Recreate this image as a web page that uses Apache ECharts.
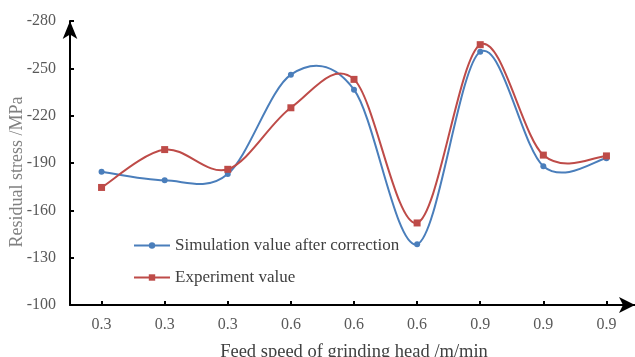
<!DOCTYPE html>
<html>
<head>
<meta charset="utf-8">
<script src="https://cdn.jsdelivr.net/npm/echarts@6/dist/echarts.min.js"></script>
<style>
  html, body { margin: 0; padding: 0; background: #fff; }
  #chart { width: 635px; height: 357px; }
</style>
</head>
<body>
<div id="chart"></div>
<script>
// Feed speed categories (m/min), one per test point
const feedSpeeds = ['0.3', '0.3', '0.3', '0.6', '0.6', '0.6', '0.9', '0.9', '0.9'];

// Residual stress (MPa)
const simulationValues = [-184.5, -179, -183, -246, -236.5, -138.5, -260.5, -188, -193];
const experimentValues = [-174.5, -198.5, -186, -225, -243, -152, -265, -195, -194.5];

// Y axis range and step
const yMin = -280;
const yMax = -100;
const yStep = 30;

const serif = 'Liberation Serif';
const blue = '#4A7EBB';
const red = '#BE4B48';

// Smooth curve through the projected points (cardinal spline, tension 1/6,
// the same shape spreadsheet "smoothed line" charts use).
function smoothPath(pts) {
  let d = 'M' + pts[0][0] + ' ' + pts[0][1];
  for (let i = 0; i < pts.length - 1; i++) {
    const p0 = pts[i - 1] || pts[i];
    const p1 = pts[i];
    const p2 = pts[i + 1];
    const p3 = pts[i + 2] || pts[i + 1];
    const c1x = p1[0] + (p2[0] - p0[0]) / 6;
    const c1y = p1[1] + (p2[1] - p0[1]) / 6;
    const c2x = p2[0] - (p3[0] - p1[0]) / 6;
    const c2y = p2[1] - (p3[1] - p1[1]) / 6;
    d += ' C' + c1x + ' ' + c1y + ' ' + c2x + ' ' + c2y + ' ' + p2[0] + ' ' + p2[1];
  }
  return d;
}

function curveSeries(values, color) {
  return {
    type: 'custom',
    silent: true,
    z: 1,
    data: [0],
    renderItem: function (params, api) {
      const pts = values.map(function (v, i) { return api.coord([i, v]); });
      return {
        type: 'path',
        shape: { pathData: smoothPath(pts) },
        style: { fill: 'none', stroke: color, lineWidth: 2 }
      };
    }
  };
}

const chart = echarts.init(document.getElementById('chart'), null, { renderer: 'canvas' });

chart.setOption({
  animation: false,
  backgroundColor: '#ffffff',
  grid: { left: 70, right: -3, top: 21, bottom: 52, containLabel: false, outerBoundsMode: 'none' },
  legend: {
    orient: 'vertical',
    left: 128,
    top: 232,
    itemWidth: 36,
    itemHeight: 8,
    itemGap: 15,
    textStyle: { fontFamily: serif, fontSize: 17, color: '#404040' },
    data: [
      { name: 'Simulation value after correction', lineStyle: { opacity: 1 } },
      { name: 'Experiment value', lineStyle: { opacity: 1 } }
    ]
  },
  xAxis: {
    type: 'category',
    data: feedSpeeds,
    boundaryGap: true,
    name: 'Feed speed of grinding head /m/min',
    nameLocation: 'middle',
    nameGap: 38,
    nameTextStyle: { fontFamily: serif, fontSize: 18.5, color: '#404040' },
    axisLine: {
      lineStyle: { color: '#000', width: 2 },
      symbol: ['none', 'arrow'],
      symbolSize: [12, 16],
      symbolOffset: [0, -3]
    },
    axisTick: { show: true, inside: true, length: 4, alignWithLabel: true, lineStyle: { color: '#000', width: 2 } },
    axisLabel: { fontFamily: serif, fontSize: 16, color: '#595959', margin: 12, interval: 0 },
    splitLine: { show: false }
  },
  yAxis: {
    type: 'value',
    inverse: true,
    min: yMin,
    max: yMax,
    interval: yStep,
    name: 'Residual stress /MPa',
    nameLocation: 'middle',
    nameMoveOverlap: false,
    nameGap: 44,
    nameTextStyle: { fontFamily: serif, fontSize: 18, color: '#808080', padding: [0, 18, 0, 0] },
    axisLine: {
      show: true,
      lineStyle: { color: '#000', width: 2 },
      symbol: ['none', 'arrow'],
      symbolSize: [11, 18],
      symbolOffset: [0, 0]
    },
    axisTick: { show: true, inside: true, length: 4, lineStyle: { color: '#000', width: 2 } },
    axisLabel: { fontFamily: serif, fontSize: 16, color: '#595959', margin: 14 },
    splitLine: { show: false }
  },
  series: [
    curveSeries(simulationValues, blue),
    curveSeries(experimentValues, red),
    {
      name: 'Simulation value after correction',
      type: 'line',
      z: 3,
      data: simulationValues,
      symbol: 'circle',
      symbolSize: 6,
      lineStyle: { color: blue, width: 2, opacity: 0 },
      itemStyle: { color: blue }
    },
    {
      name: 'Experiment value',
      type: 'line',
      z: 3,
      data: experimentValues,
      symbol: 'rect',
      symbolSize: 7,
      lineStyle: { color: red, width: 2, opacity: 0 },
      itemStyle: { color: red }
    }
  ]
});
</script>
</body>
</html>
